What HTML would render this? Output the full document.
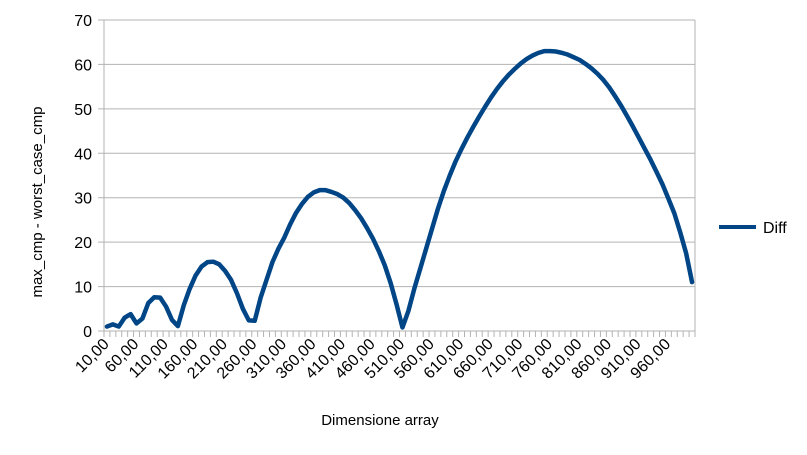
<!DOCTYPE html>
<html><head><meta charset="utf-8"><style>
html,body{margin:0;padding:0;background:#fff;}
svg{display:block;font-family:"Liberation Sans",sans-serif;}
</style></head><body>
<svg id="chart" width="807" height="455">
<g id="grid"></g>
<g id="yt"></g>
<g id="xt"></g>
<path id="line" fill="none" stroke="#004586" stroke-width="4.5" stroke-linejoin="round" stroke-linecap="round"/>
<text transform="translate(42,202) rotate(-90)" text-anchor="middle" font-size="15">max_cmp - worst_case_cmp</text>
<text x="380" y="425" text-anchor="middle" font-size="15">Dimensione array</text>
<g>
<line x1="719" y1="227" x2="756" y2="227" stroke="#004586" stroke-width="4"/>
<text x="763" y="233" font-size="16">Diff</text>
</g>
</svg>
<script>
const values=[1,1.5,1,3,3.8,1.7,2.8,6.3,7.6,7.5,5.5,2.5,1.1,5.8,9.5,12.5,14.5,15.5,15.6,15,13.5,11.5,8.5,5,2.4,2.3,7.5,11.5,15.5,18.5,21,24,26.6,28.6,30.2,31.2,31.7,31.7,31.3,30.8,30,28.8,27.2,25.4,23.2,20.8,18,14.8,10.8,6,0.8,4.5,9.5,14,18.5,23,27.5,31.5,35,38.2,41,43.6,46,48.3,50.5,52.6,54.5,56.2,57.7,59,60.2,61.2,62,62.6,63,63,62.9,62.6,62.2,61.6,61,60.1,59.1,57.9,56.5,54.8,52.8,50.7,48.4,46,43.5,41,38.5,35.8,33,29.8,26.5,22.2,17.5,11];
const categories=values.map((v,i)=>(i+1)*10);
const yTicks=[0,10,20,30,40,50,60,70];
const L=104,R=695,T=20,B=331,yMax=70;
const n=categories.length,cw=(R-L)/n;
const xs=i=>L+cw*(i+0.5);
const ys=v=>B-(v/yMax)*(B-T);
const NS="http://www.w3.org/2000/svg";
function mk(tag,attrs,parent){const e=document.createElementNS(NS,tag);for(const k in attrs)e.setAttribute(k,attrs[k]);parent.appendChild(e);return e;}
const grid=document.getElementById('grid'),yt=document.getElementById('yt'),xt=document.getElementById('xt');
yTicks.forEach(t=>{
 const y=ys(t);
 const l=mk('line',{x1:L-6,x2:R,y1:y,y2:y,stroke:'#b3b3b3','stroke-width':1},grid);
 
 
 const tx=mk('text',{x:L-12,y:y+6,'text-anchor':'end','font-size':16},yt);
 tx.textContent=t;
 
 
});
const ax=mk('line',{x1:L,x2:L,y1:T,y2:B,stroke:'#b3b3b3'},grid);


const ar=mk('line',{x1:R,x2:R,y1:T,y2:B,stroke:'#b3b3b3'},grid);


for(let i=0;i<=n;i++){
 const x=L+cw*i;
 const l=mk('line',{x1:x,x2:x,y1:B,y2:B+6,stroke:'#b3b3b3'},xt);
 
 
}
categories.forEach((c,i)=>{
 if(i%5!==0)return;
 const x=xs(i)+3,y=B+14;
 const tx=mk('text',{x:x,y:y,'text-anchor':'end','font-size':16,transform:`rotate(-45 ${x} ${y})`},xt);
 tx.textContent=c+',00';
 
 
});
document.getElementById('line').setAttribute('d',values.map((v,i)=>(i?'L':'M')+xs(i).toFixed(2)+','+ys(v).toFixed(2)).join(''));
</script>
</body></html>
